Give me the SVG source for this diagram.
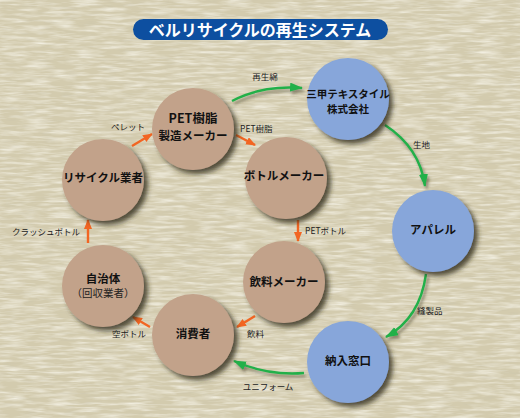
<svg xmlns="http://www.w3.org/2000/svg" width="520" height="418" viewBox="0 0 520 418">
<defs>
<style>
.bg{fill:#d3cbae}
.brown{fill:#c2a28a}
.blue{fill:#87a6da}
.nt{font-family:"Noto Sans CJK JP","Liberation Sans",sans-serif;font-weight:bold;font-size:11.5px;fill:#111;text-anchor:middle}
.nt2{font-family:"Noto Sans CJK JP","Liberation Sans",sans-serif;font-size:10.5px;fill:#222;text-anchor:middle}
.lb{font-family:"Noto Sans CJK JP","Liberation Sans",sans-serif;font-size:8.5px;fill:#222}
.g{fill:none;stroke:#22b04a;stroke-width:2.4;marker-end:url(#ga)}
.o{fill:none;stroke:#f26522;stroke-width:2.4;marker-end:url(#oa)}
.title{font-family:"Noto Sans CJK JP","Liberation Sans",sans-serif;font-weight:bold;font-size:16px;fill:#fff;text-anchor:middle}
</style>
<filter id="tex" x="0" y="0" width="100%" height="100%">
<feTurbulence type="fractalNoise" baseFrequency="0.04 0.35" numOctaves="3" seed="4"/>
<feColorMatrix values="0 0 0 0 1  0 0 0 0 0.99  0 0 0 0 0.93  1.3 0 0 0 -0.5"/>
</filter>
<filter id="tex2" x="0" y="0" width="100%" height="100%">
<feTurbulence type="fractalNoise" baseFrequency="0.05 0.4" numOctaves="2" seed="9"/>
<feColorMatrix values="0 0 0 0 0.55  0 0 0 0 0.52  0 0 0 0 0.4  0.9 0 0 0 -0.5"/>
</filter>
<filter id="sh" x="-30%" y="-30%" width="170%" height="170%">
<feDropShadow dx="4" dy="4" stdDeviation="2.5" flood-color="#2e2a1c" flood-opacity="0.8"/>
</filter>
<filter id="ash" x="-20%" y="-50%" width="140%" height="200%">
<feDropShadow dx="2" dy="3" stdDeviation="1.5" flood-color="#3a3420" flood-opacity="0.5"/>
</filter>
<marker id="ga" markerUnits="userSpaceOnUse" markerWidth="14" markerHeight="10" refX="12" refY="4.5" orient="auto">
<path d="M0,0 L13,4.5 L0,9 z" fill="#22b04a"/>
</marker>
<marker id="oa" markerUnits="userSpaceOnUse" markerWidth="11" markerHeight="9" refX="9" refY="4" orient="auto">
<path d="M0,0 L10,4 L0,8 z" fill="#f26522"/>
</marker>
</defs>
<rect class="bg" x="0" y="0" width="520" height="418"/>
<rect x="0" y="0" width="520" height="418" filter="url(#tex)"/>
<rect x="0" y="0" width="520" height="418" filter="url(#tex2)"/>

<g id="title">
<rect x="133" y="19" width="255" height="21" rx="10.5" fill="#0d4fa0"/>
<text class="title" x="260" y="36">ベルリサイクルの再生システム</text>
</g>

<g id="connectors">
<g filter="url(#ash)">
<path class="g" d="M232,101 Q262,85 302,88"/>
<path class="g" d="M385,125 Q420,148 425,186"/>
<path class="g" d="M426,274 Q420,318 386,337"/>
<path class="g" d="M304,373 Q268,376 234,361"/>
</g>
<path class="o" d="M132,146 L152,134"/>
<path class="o" d="M236,135 L255,145"/>
<path class="o" d="M298,220 L298,241"/>
<path class="o" d="M255,316 L237,327"/>
<path class="o" d="M150,327 L133,317"/>
<path class="o" d="M88,243 L88,220"/>
<text class="lb" x="265" y="80" text-anchor="middle">再生綿</text>
<text class="lb" x="413" y="148">生地</text>
<text class="lb" x="417" y="314">縫製品</text>
<text class="lb" x="268" y="390" text-anchor="middle">ユニフォーム</text>
<text class="lb" x="247" y="337">飲料</text>
<text class="lb" x="112" y="337">空ボトル</text>
<text class="lb" x="80" y="235" text-anchor="end">クラッシュボトル</text>
<text class="lb" x="128" y="130" text-anchor="middle">ペレット</text>
<text class="lb" x="240" y="132">PET樹脂</text>
<text class="lb" x="305" y="234">PETボトル</text>
</g>

<g id="pet">
<circle class="brown" cx="193" cy="129" r="41" filter="url(#sh)"/>
<text class="nt" x="193" y="123" style="font-size:12.5px">PET樹脂</text>
<text class="nt" x="193" y="140">製造メーカー</text>
</g>
<g id="sanko">
<circle class="blue" cx="348" cy="99" r="41" filter="url(#sh)"/>
<text class="nt" x="348" y="98" style="font-size:10.5px">三甲テキスタイル</text>
<text class="nt" x="348" y="113" style="font-size:10.5px">株式会社</text>
</g>
<g id="recycle">
<circle class="brown" cx="103" cy="180" r="41" filter="url(#sh)"/>
<text class="nt" x="103" y="182">リサイクル業者</text>
</g>
<g id="bottle">
<circle class="brown" cx="286" cy="178" r="41" filter="url(#sh)"/>
<text class="nt" x="284" y="180">ボトルメーカー</text>
</g>
<g id="apparel">
<circle class="blue" cx="433" cy="231" r="41" filter="url(#sh)"/>
<text class="nt" x="433" y="234">アパレル</text>
</g>
<g id="jichitai">
<circle class="brown" cx="103" cy="286" r="41" filter="url(#sh)"/>
<text class="nt" x="103" y="283">自治体</text>
<text class="nt2" x="103" y="297">（回収業者）</text>
</g>
<g id="drink">
<circle class="brown" cx="284" cy="282" r="41" filter="url(#sh)"/>
<text class="nt" x="284" y="286">飲料メーカー</text>
</g>
<g id="consumer">
<circle class="brown" cx="193" cy="335" r="41" filter="url(#sh)"/>
<text class="nt" x="193" y="338">消費者</text>
</g>
<g id="nounyu">
<circle class="blue" cx="348" cy="362" r="41" filter="url(#sh)"/>
<text class="nt" x="348" y="365">納入窓口</text>
</g>
</svg>
